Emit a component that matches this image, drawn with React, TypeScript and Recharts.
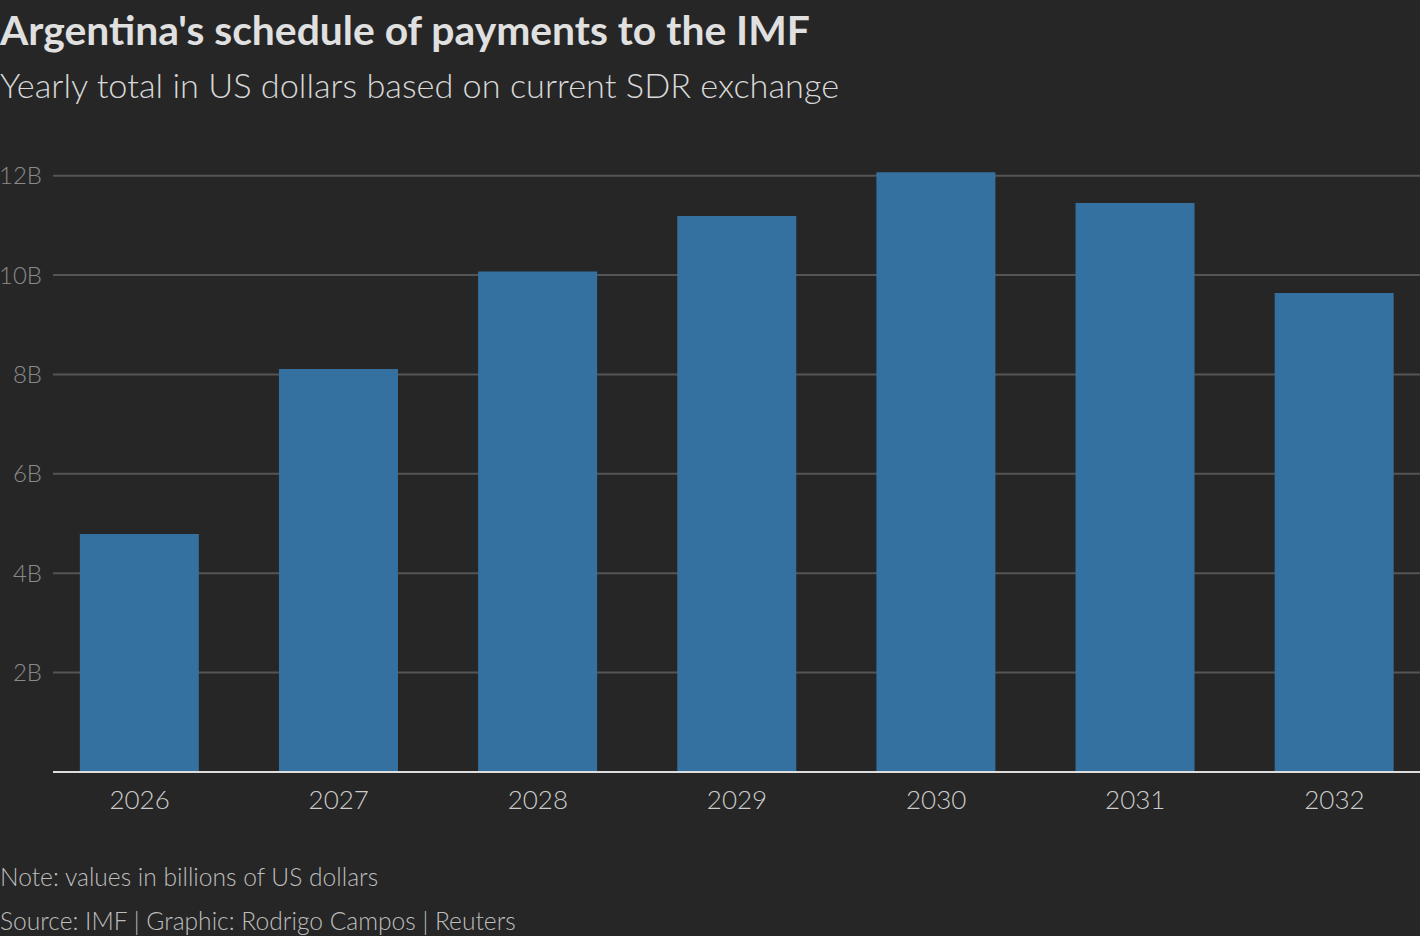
import { Bar, BarChart, CartesianGrid, XAxis, YAxis } from "recharts";

const years = ["2026", "2027", "2028", "2029", "2030", "2031", "2032"];
const payments = [4.79, 8.11, 10.07, 11.19, 12.07, 11.45, 9.64];
const yTicks = [2, 4, 6, 8, 10, 12];

const data = years.map((year, i) => ({ year, value: payments[i] }));

const FONT = "Lato, 'Open Sans', sans-serif";

export default function App() {
  return (
    <div
      style={{
        position: "absolute",
        left: 0,
        top: 0,
        width: 1420,
        height: 936,
        background: "#262626",
        fontFamily: FONT,
        overflow: "hidden",
      }}
    >
      <div
        style={{
          position: "absolute",
          left: 0,
          top: 5,
          fontSize: 40.8,
          fontWeight: 700,
          color: "#e0e0e0",
          whiteSpace: "nowrap",
        }}
      >
        Argentina's schedule of payments to the IMF
      </div>
      <div
        style={{
          position: "absolute",
          left: 0,
          top: 64,
          fontSize: 34.3,
          fontWeight: 300,
          color: "#d8d8d8",
          whiteSpace: "nowrap",
        }}
      >
        Yearly total in US dollars based on current SDR exchange
      </div>

      <div style={{ position: "absolute", left: 0, top: 0 }}>
        <BarChart
          width={1420}
          height={936}
          data={data}
          margin={{ top: 126, right: 0, bottom: 134, left: 0 }}
          barCategoryGap="20%"
        >
          <CartesianGrid
            vertical={false}
            horizontalValues={yTicks}
            stroke="#555555"
            strokeWidth={2}
          />
          <XAxis
            dataKey="year"
            height={30}
            padding={{ left: -13, right: -14 }}
            tickLine={false}
            tickSize={0}
            tickMargin={19}
            axisLine={{ stroke: "#dddddd", strokeWidth: 2 }}
            tick={{ fill: "#cccccc", fontSize: 26, fontFamily: FONT, fontWeight: 300 }}
          />
          <YAxis
            width={53}
            domain={[0, 13]}
            ticks={yTicks}
            tickFormatter={(v: number) => `${v}B`}
            axisLine={false}
            tickLine={false}
            tickSize={0}
            tickMargin={11}
            tick={{ fill: "#8a8a8a", fontSize: 24, fontFamily: FONT, fontWeight: 300 }}
          />
          <Bar dataKey="value" fill="#3471a1" isAnimationActive={false} />
        </BarChart>
      </div>

      <div
        style={{
          position: "absolute",
          left: 0,
          top: 862,
          fontSize: 24.6,
          fontWeight: 300,
          color: "#bdbdbd",
          whiteSpace: "nowrap",
        }}
      >
        Note: values in billions of US dollars
      </div>
      <div
        style={{
          position: "absolute",
          left: 0,
          top: 906,
          fontSize: 24.6,
          fontWeight: 300,
          color: "#bdbdbd",
          whiteSpace: "nowrap",
        }}
      >
        Source: IMF | Graphic: Rodrigo Campos | Reuters
      </div>
    </div>
  );
}
